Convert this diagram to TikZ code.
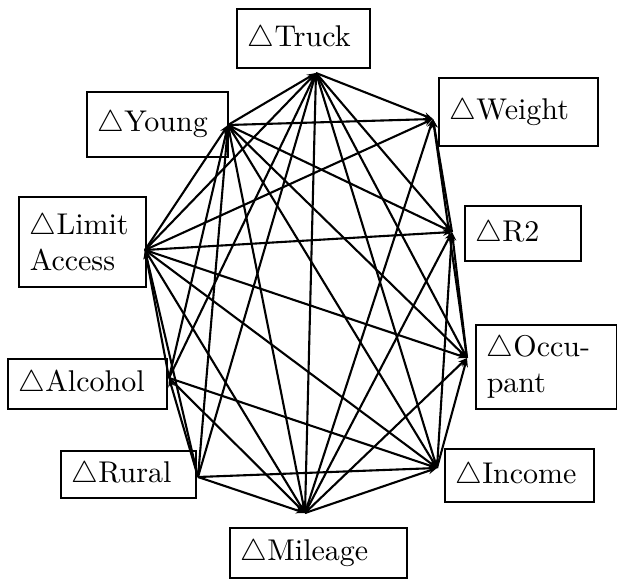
\documentclass[tikz,border=0pt]{standalone}
\usepackage{amssymb}
\usetikzlibrary{arrows.meta}
\newcommand{\dvar}[1]{$\triangle$#1}

\begin{document}
\begin{tikzpicture}[x=0.3333pt, y=-0.3333pt,
    var/.style={draw, line width=0.5pt, inner xsep=3.6pt, inner ysep=0pt, align=left},
    dep/.style={line width=0.7pt, -{Stealth[length=3pt,width=2.2pt]}}]
  \useasboundingbox (0,0) rectangle (617,583);
  % the variables
  \node[var, text width=37pt, minimum height=19.7pt] (tr) at (303.5,38.5) {\dvar{Truck}};
  \node[var, text width=39.8pt, minimum height=21.7pt] (yo) at (157.5,124.5) {\dvar{Young}};
  \node[var, text width=45.8pt, minimum height=22.7pt] (we) at (518.5,112) {\dvar{Weight}};
  \node[var, text width=35.1pt, minimum height=30pt] (la) at (82.5,242) {\dvar{Limit}\\Access};
  \node[var, text width=31.5pt, minimum height=18.3pt] (r2) at (523,233.5) {\dvar{R2}};
  \node[var, text width=39.8pt, minimum height=28pt] (oc) at (546.5,367) {\dvar{Occu-}\\pant};
  \node[var, text width=45.8pt, minimum height=16.7pt] (al) at (87.5,384) {\dvar{Alcohol}};
  \node[var, text width=37.8pt, minimum height=15.7pt] (ru) at (128.5,474.5) {\dvar{Rural}};
  \node[var, text width=42.5pt, minimum height=17.7pt] (in) at (519.5,475.5) {\dvar{Income}};
  \node[var, text width=51.8pt, minimum height=16.7pt] (mi) at (318.5,553) {\dvar{Mileage}};
  % where the links meet
  \coordinate (pTr) at (316,73);
  \coordinate (pYo) at (228,125);
  \coordinate (pWe) at (433,119);
  \coordinate (pLa) at (145,250);
  \coordinate (pR2) at (452,232);
  \coordinate (pOc) at (467,358);
  \coordinate (pAl) at (169,378);
  \coordinate (pRu) at (198,477);
  \coordinate (pIn) at (437,468);
  \coordinate (pMi) at (305,513);
  % links
  \foreach \a/\b in {Ru/Al, Ru/La, Ru/Yo, Ru/Tr, Ru/Mi, Ru/In,
      Al/La, Al/Yo, Al/Tr, Al/Mi, Al/In,
      La/Yo, La/Tr, La/Mi, La/In, La/Oc, La/R2, La/We,
      Yo/Tr, Yo/Mi, Yo/In, Yo/Oc, Yo/R2, Yo/We,
      Tr/Mi, Tr/In, Tr/Oc, Tr/R2, Tr/We,
      Mi/In, Mi/Oc, Mi/R2, Mi/We,
      In/Oc, In/R2,
      Oc/R2, Oc/We, R2/We}
    \draw[dep] (p\a) -- (p\b);
\end{tikzpicture}
\end{document}
